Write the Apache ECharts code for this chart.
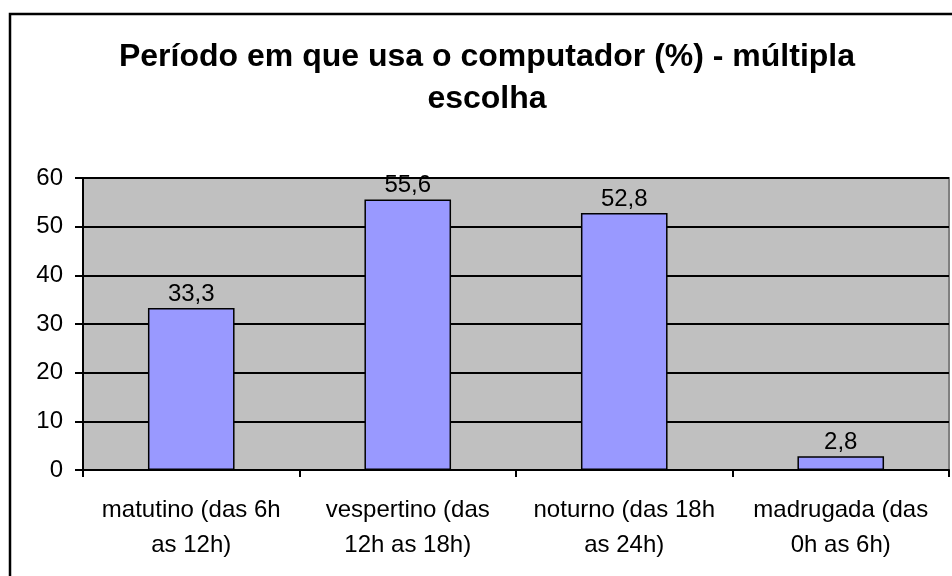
<!DOCTYPE html>
<html>
<head>
<meta charset="utf-8">
<script src="https://cdn.jsdelivr.net/npm/echarts@6/dist/echarts.min.js"></script>
<style>
html, body { margin: 0; padding: 0; background: #fff; }
#chart { width: 952px; height: 576px; }
</style>
</head>
<body>
<div id="chart"></div>
<script>
// dados do gráfico
var categorias = [
    "matutino (das 6h\nas 12h)",
    "vespertino (das\n12h as 18h)",
    "noturno (das 18h\nas 24h)",
    "madrugada (das\n0h as 6h)"
];
var percentuais = [33.3, 55.6, 52.8, 2.8];
var titulo = "Período em que usa o computador (%) - múltipla\nescolha";

var chart = echarts.init(document.getElementById("chart"));
var fonte = "'Liberation Sans', Arial, sans-serif";

var option = {
    backgroundColor: "#fff",
    animation: false,
    title: {
        text: titulo,
        left: 487,
        top: 36,
        padding: 0,
        textAlign: "center",
        textStyle: {
            fontFamily: fonte,
            fontSize: 32,
            fontWeight: "bold",
            color: "#000",
            lineHeight: 42
        }
    },
    // moldura externa
    graphic: [{
        type: "rect",
        shape: { x: 10, y: 14, width: 1000, height: 700 },
        style: { fill: null, stroke: "#000", lineWidth: 2.5 },
        silent: true
    }],
    grid: {
        left: 83,
        right: 3,
        top: 178,
        bottom: 106,
        show: true,
        backgroundColor: "#C0C0C0",
        borderColor: "#808080",
        borderWidth: 2
    },
    xAxis: {
        type: "category",
        data: categorias,
        axisLine: { lineStyle: { color: "#000", width: 2 } },
        axisTick: { show: true, length: 7, lineStyle: { color: "#000", width: 2 } },
        axisLabel: {
            color: "#000",
            fontFamily: fonte,
            fontSize: 24,
            lineHeight: 35,
            margin: 23,
            interval: 0
        }
    },
    yAxis: {
        type: "value",
        min: 0,
        max: 60,
        interval: 10,
        axisLine: { show: true, lineStyle: { color: "#000", width: 2 } },
        axisTick: { show: true, length: 8, lineStyle: { color: "#000", width: 2 } },
        axisLabel: {
            color: "#000",
            fontFamily: fonte,
            fontSize: 24,
            margin: 20
        },
        splitLine: { lineStyle: { color: "#000", width: 2 } }
    },
    series: [{
        type: "bar",
        data: percentuais,
        barWidth: "40%",
        itemStyle: { color: "#9999FF", borderColor: "#000", borderWidth: 1.5 },
        label: {
            show: true,
            position: "top",
            distance: 2,
            color: "#000",
            fontFamily: fonte,
            fontSize: 24,
            formatter: function (p) {
                return String(p.value).replace(".", ",");
            }
        }
    }]
};

chart.setOption(option);
</script>
</body>
</html>
